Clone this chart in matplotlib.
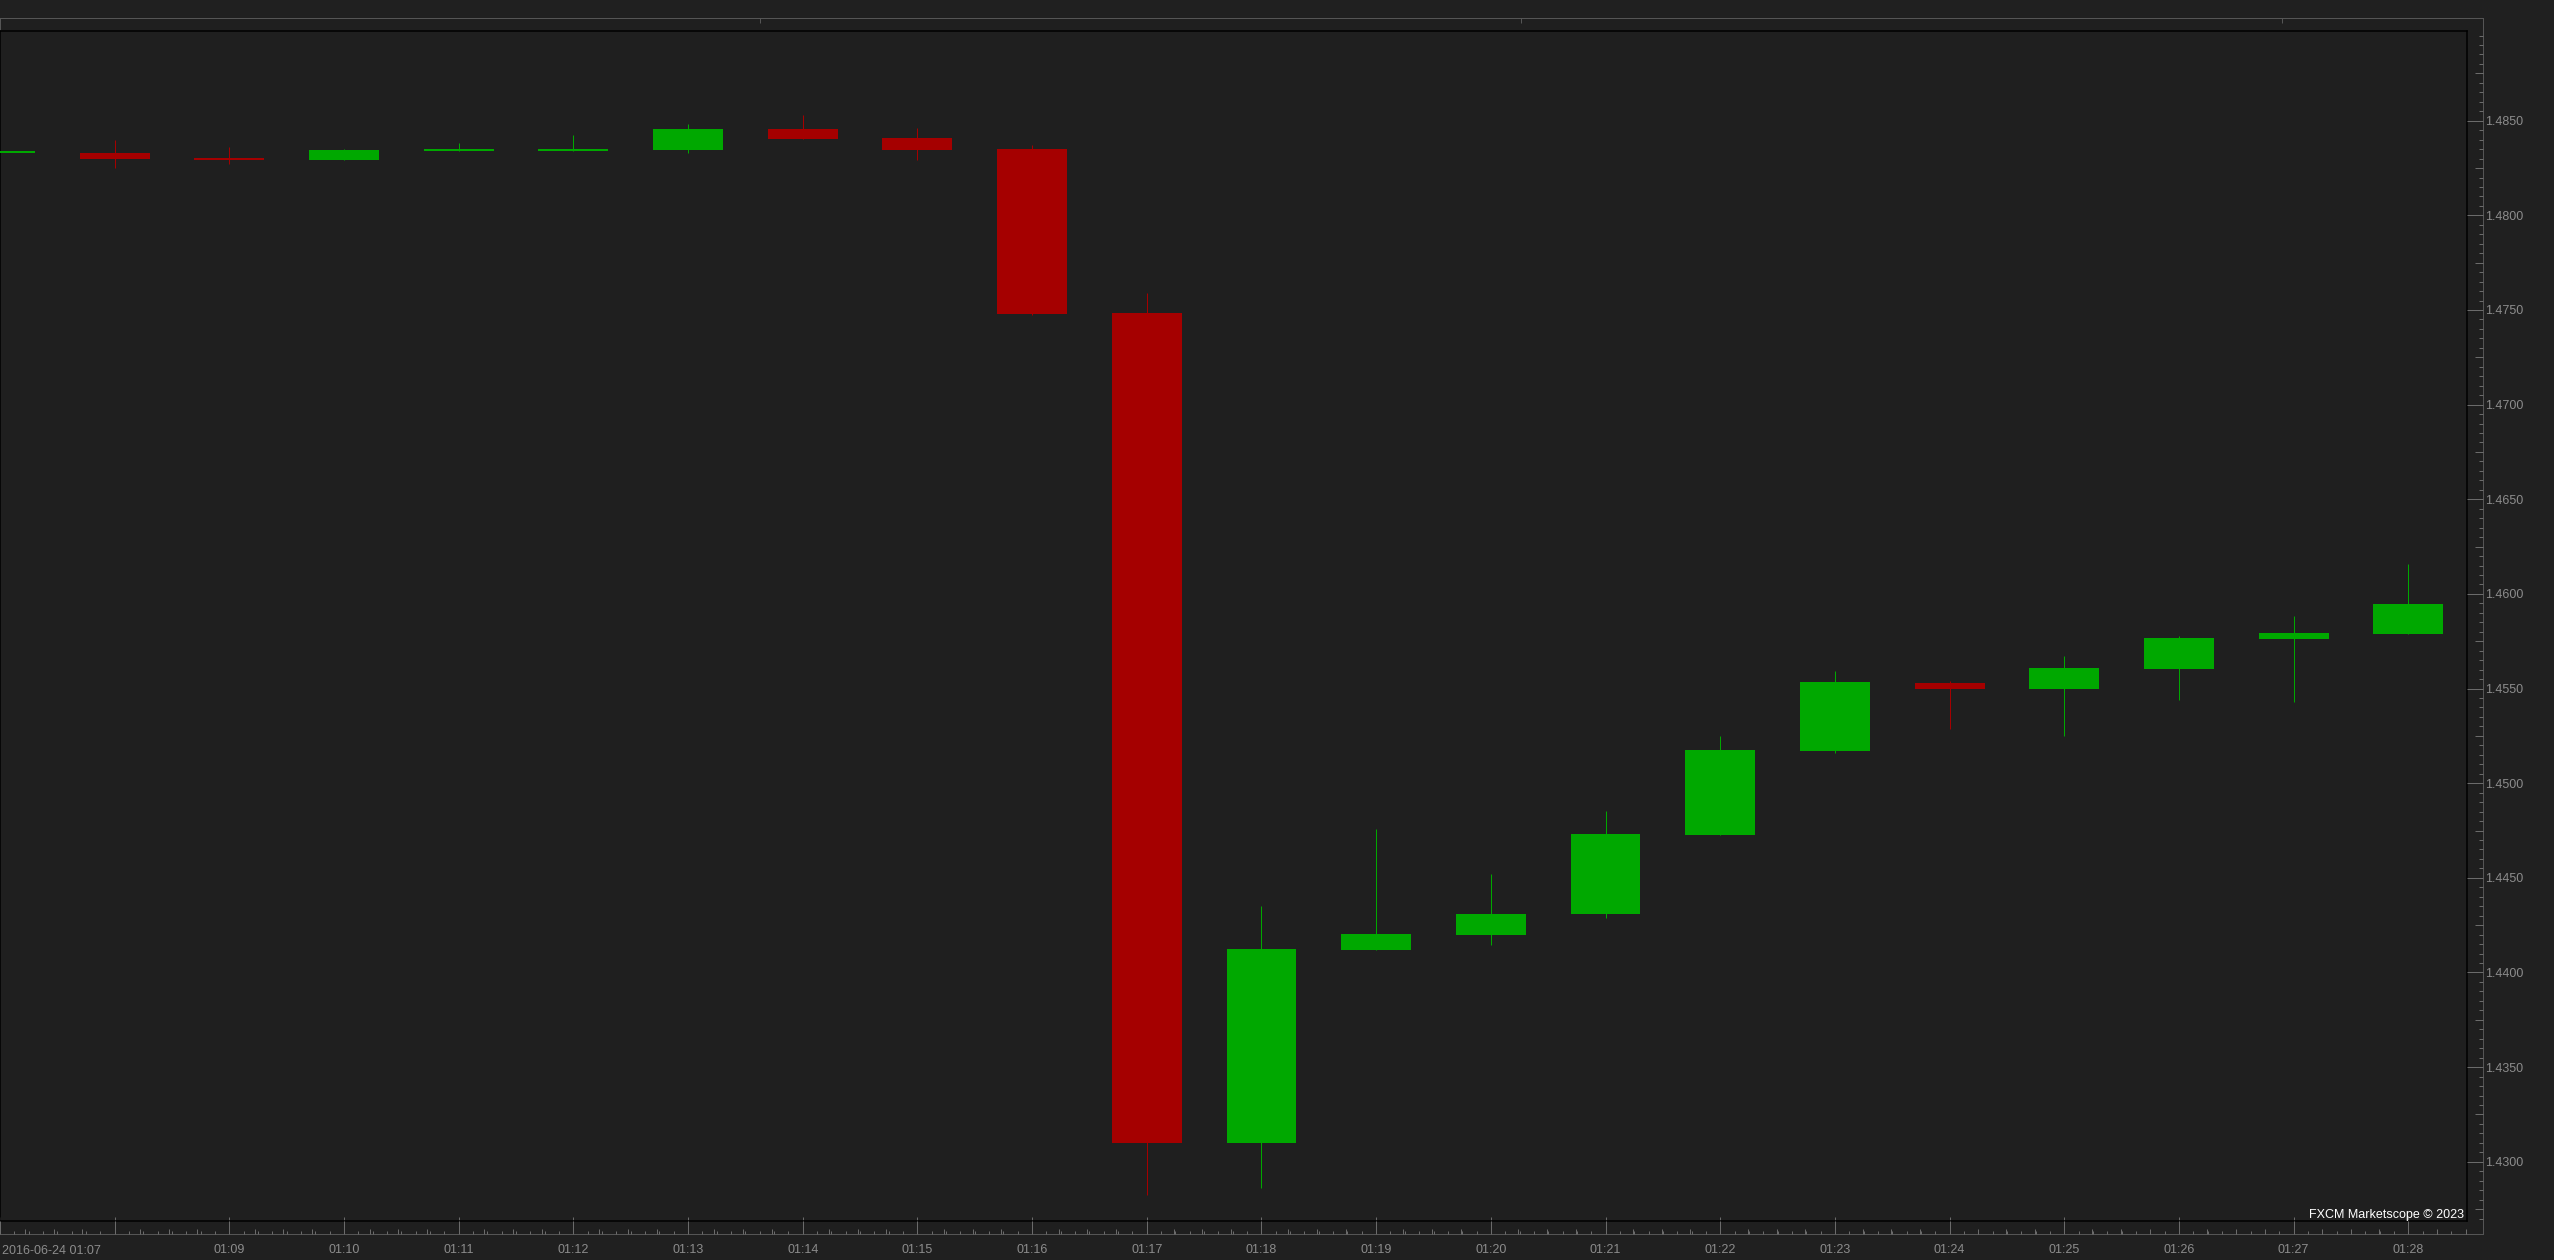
import numpy as np
import matplotlib.pyplot as plt
from matplotlib.ticker import MultipleLocator, FixedLocator

# EUR/USD 1-minute candles, 2016-06-24
times = ['01:07', '01:08', '01:09', '01:10', '01:11', '01:12', '01:13', '01:14',
         '01:15', '01:16', '01:17', '01:18', '01:19', '01:20', '01:21', '01:22',
         '01:23', '01:24', '01:25', '01:26', '01:27', '01:28']
opens = [1.48330, 1.48329, 1.48305, 1.48292, 1.48340, 1.48340, 1.48345, 1.48458,
         1.48410, 1.48349, 1.47482, 1.43097, 1.44120, 1.44199, 1.44307, 1.44728,
         1.45171, 1.45527, 1.45499, 1.45605, 1.45763, 1.45788]
highs = [1.48332, 1.48396, 1.48363, 1.48350, 1.48382, 1.48426, 1.48483, 1.48528,
         1.48463, 1.48372, 1.47588, 1.44351, 1.44760, 1.44520, 1.44855, 1.45249,
         1.45594, 1.45542, 1.45672, 1.45776, 1.45883, 1.46158]
lows = [1.48330, 1.48249, 1.48270, 1.48292, 1.48340, 1.48340, 1.48328, 1.48403,
        1.48292, 1.47475, 1.42824, 1.42863, 1.44120, 1.44145, 1.44288, 1.44728,
        1.45158, 1.45286, 1.45251, 1.45439, 1.45429, 1.45788]
closes = [1.48332, 1.48297, 1.48292, 1.48345, 1.48345, 1.48350, 1.48456, 1.48403,
          1.48345, 1.47480, 1.43097, 1.44124, 1.44203, 1.44309, 1.44731, 1.45175,
          1.45534, 1.45499, 1.45608, 1.45767, 1.45793, 1.45947]
date_label = '2016-06-24 01:07'
watermark = 'FXCM Marketscope \u00a9 2023'

W, H = 2554, 1260
PT = 0.72  # points per pixel at dpi 100
BG = '#1f1f1f'
UP = '#00a800'
DOWN = '#a50000'
TICK = '#6b6b6b'
LABEL = '#8c8c8c'

plt.rcParams['font.family'] = ['Liberation Sans', 'DejaVu Sans']


def rect(x0, y0, x1, y1):
    # pixel box (top-left origin) -> figure fraction
    return [x0 / W, 1 - y1 / H, (x1 - x0) / W, (y1 - y0) / H]


xlim = (0.032, 21.512)
ylim = (1.42687, 1.48974)

fig = plt.figure(figsize=(W / 100, H / 100), dpi=100, facecolor='#202020')

# outer frame with the blank strip on top
frame = fig.add_axes(rect(0, 18, 2483, 1234), facecolor=BG)
for s in frame.spines.values():
    s.set_color('#555555')
    s.set_linewidth(PT)
frame.set_xlim(0, 1)
frame.set_yticks([])
frame.set_xticks([0.306, 0.6126, 0.919])
frame.tick_params(axis='x', bottom=False, top=True, labelbottom=False,
                  direction='in', length=5 * PT, color='#555555', width=PT)

# main price panel
ax = fig.add_axes(rect(0, 31, 2467, 1221), facecolor=BG)
x = np.arange(len(times))
o = np.array(opens)
c = np.array(closes)
colors = [UP if cc >= oo else DOWN for oo, cc in zip(o, c)]
min_h = 0.00008
body_h = np.maximum(np.abs(c - o), min_h)
body_b = np.minimum(o, c)
ax.vlines(x, lows, highs, colors=colors, linewidth=PT, zorder=2)
ax.bar(x, body_h, bottom=body_b, width=0.61, color=colors, linewidth=0, zorder=3)
ax.set_xlim(*xlim)
ax.set_ylim(*ylim)
for s in ax.spines.values():
    s.set_color('black')
    s.set_linewidth(1.5 * PT)
ax.set_yticks([])
ax.set_xticks(x)
ax.tick_params(axis='x', labelbottom=False, direction='in', length=4 * PT,
               color=TICK, width=PT)
ax.text(1 - 3 / 2467, 6 / 1190, watermark, transform=ax.transAxes, ha='right',
        va='center', color='white', fontsize=9, zorder=5)

# time axis strip
xs = fig.add_axes(rect(0, 1221, 2467, 1234), facecolor='none')
xs.set_xlim(*xlim)
xs.set_ylim(0, 1)
xs.set_yticks([])
for s in xs.spines.values():
    s.set_visible(False)
xs.set_xticks(x)
xs.set_xticklabels([''] * 2 + times[2:])
xs.xaxis.set_minor_locator(MultipleLocator(0.125))
xs.tick_params(axis='x', which='major', direction='in', length=13 * PT,
               color=TICK, width=PT, labelcolor=LABEL, labelsize=9, pad=7)
xs.tick_params(axis='x', which='minor', direction='in', length=3 * PT,
               color=TICK, width=PT)
xs2 = fig.add_axes(rect(0, 1221, 2467, 1234), facecolor='none')
xs2.set_xlim(*xlim)
xs2.set_yticks([])
for s in xs2.spines.values():
    s.set_visible(False)
quarters = [m + q for m in x for q in (0.25, 0.5, 0.75)]
xs2.xaxis.set_major_locator(FixedLocator(quarters))
xs2.tick_params(axis='x', direction='in', length=5 * PT, color=TICK, width=PT,
                labelbottom=False)
fig.text(2 / W, 1 - 1250.5 / H, date_label, ha='left', va='center',
         color=LABEL, fontsize=9)

# price axis strip
ys = fig.add_axes(rect(2467, 31, 2483, 1221), facecolor='none')
ys.set_ylim(*ylim)
ys.set_xticks([])
for s in ys.spines.values():
    s.set_visible(False)
ys.yaxis.tick_right()
ys.set_yticks(np.arange(1.4300, 1.48501, 0.005))
ys.set_yticklabels(['%.4f' % v for v in np.arange(1.4300, 1.48501, 0.005)])
ys.yaxis.set_minor_locator(MultipleLocator(0.0005))
ys.tick_params(axis='y', which='major', direction='in', length=16 * PT,
               color=TICK, width=PT, labelcolor=LABEL, labelsize=9, pad=1.5)
ys.tick_params(axis='y', which='minor', direction='in', length=4 * PT,
               color=TICK, width=PT)
ys2 = fig.add_axes(rect(2467, 31, 2483, 1221), facecolor='none')
ys2.set_ylim(*ylim)
ys2.set_xticks([])
for s in ys2.spines.values():
    s.set_visible(False)
ys2.yaxis.tick_right()
ys2.yaxis.set_major_locator(FixedLocator(np.arange(1.4275, 1.4900, 0.005)))
ys2.tick_params(axis='y', direction='in', length=8 * PT, color=TICK, width=PT,
                labelright=False)

fig.savefig('out.png', dpi=100, facecolor=fig.get_facecolor())
